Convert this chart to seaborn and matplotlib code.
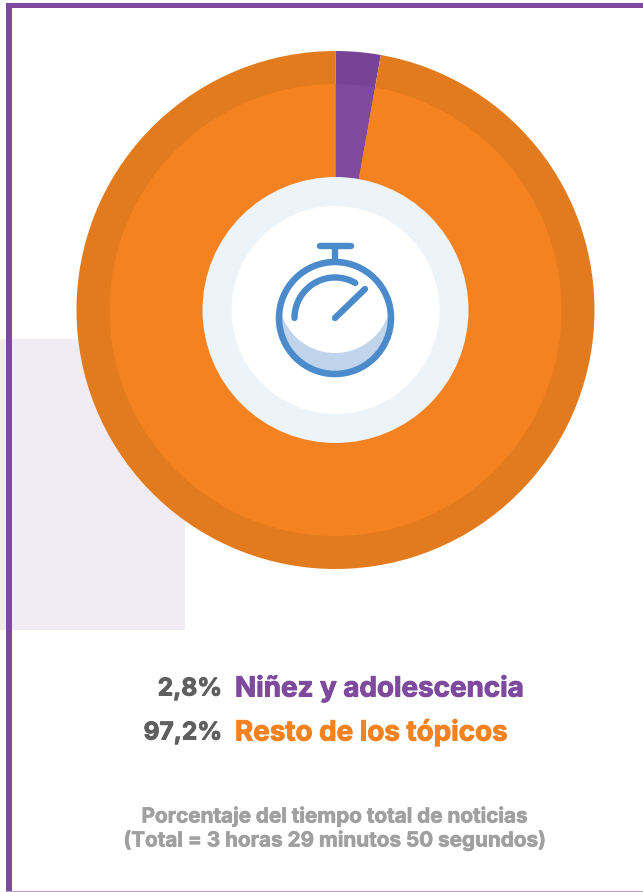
import numpy as np
import matplotlib.pyplot as plt
import matplotlib.patches as mpatches
import matplotlib.patheffects as pe
import seaborn as sns

categories = ['Niñez y adolescencia', 'Resto de los tópicos']
values = [2.8, 97.2]
pct_labels = ['2,8%', '97,2%']
caption = ['Porcentaje del tiempo total de noticias',
           '(Total = 3 horas 29 minutos 50 segundos)']

sns.set_theme(style='white')
plt.rcParams['font.family'] = ['Inter', 'DejaVu Sans']

W, H = 643, 892
PURPLE, ORANGE = '#7F4A9E', '#F58220'
ring_colors = sns.color_palette(['#764396', '#E27B1E'])
main_colors = sns.color_palette([PURPLE, ORANGE])
BLUE = '#4C8BCB'

fig = plt.figure(figsize=(W / 100, H / 100), dpi=100, facecolor='white')

# page layer in pixel coordinates
bg = fig.add_axes([0, 0, 1, 1])
bg.set_xlim(0, W)
bg.set_ylim(H, 0)
bg.axis('off')
bg.add_patch(mpatches.Rectangle((0, 339), 185, 291, color='#F1ECF4', lw=0))
bg.add_patch(mpatches.Rectangle((6, 3), W, 5, color=PURPLE, lw=0))
bg.add_patch(mpatches.Rectangle((6, 3), 6, H, color=PURPLE, lw=0))
bg.add_patch(mpatches.Rectangle((6, 891), W, 1, color='#B9A0C8', lw=0))

# donut
cx, cy, R = 335.5, 310, 259
pie_ax = fig.add_axes([(cx - R) / W, 1 - (cy + R) / H, 2 * R / W, 2 * R / H])
pie_ax.patch.set_alpha(0)
pie_ax.pie(values, colors=ring_colors, radius=1, startangle=90, counterclock=False,
           wedgeprops={'linewidth': 0})
pie_ax.pie(values, colors=main_colors, radius=226 / 259, startangle=90, counterclock=False,
           wedgeprops={'linewidth': 0})
pie_ax.add_patch(mpatches.Circle((0, 0), 133 / 259, color='#ECF3F9', lw=0))
pie_ax.add_patch(mpatches.Circle((0, 0), 104 / 259, color='white', lw=0))
pie_ax.set_xlim(-1, 1)
pie_ax.set_ylim(-1, 1)

# stopwatch icon and text on top
top = fig.add_axes([0, 0, 1, 1])
top.set_xlim(0, W)
top.set_ylim(H, 0)
top.axis('off')
top.patch.set_alpha(0)

ix, iy, ir = 335, 318, 56
body = mpatches.Circle((ix, iy), ir, color='#C0D5EC', lw=0)
top.add_patch(body)
shine = mpatches.Circle((ix, 297), 56, color='white', lw=0)
top.add_patch(shine)
shine.set_clip_path(body)
top.add_patch(mpatches.Circle((ix, iy), ir, fill=False, ec=BLUE, lw=4.7))
lw = 4.6
top.plot([ix, ix], [246, 262], color=BLUE, lw=lw, solid_capstyle='butt')
top.plot([320, 351], [245.5, 245.5], color=BLUE, lw=lw, solid_capstyle='round')
top.plot([335, 365], [318, 289], color=BLUE, lw=lw, solid_capstyle='round')
t = np.radians(np.linspace(180, 300, 60))
top.plot(ix + 40.5 * np.cos(t), iy + 40.5 * np.sin(t), color=BLUE, lw=lw, solid_capstyle='round')


def heavy(color, width):
    return [pe.withStroke(linewidth=width, foreground=color)]


for y, pct, cat, col in zip([689, 733], pct_labels, categories, [PURPLE, ORANGE]):
    top.text(222, y, pct, ha='right', va='center', fontsize=17.6, fontweight='bold',
             color='#5F5F5F', path_effects=heavy('#5F5F5F', 0.7))
    top.text(235, y, cat, ha='left', va='center', fontsize=20, fontweight='bold',
             color=col, path_effects=heavy(col, 0.7))

for y, line in zip([816, 840], caption):
    top.text(335, y, line, ha='center', va='center', fontsize=14.9, fontweight='bold',
             color='#A0A0A0', path_effects=heavy('#A0A0A0', 0.5))

fig.savefig('out.png', dpi=100)
